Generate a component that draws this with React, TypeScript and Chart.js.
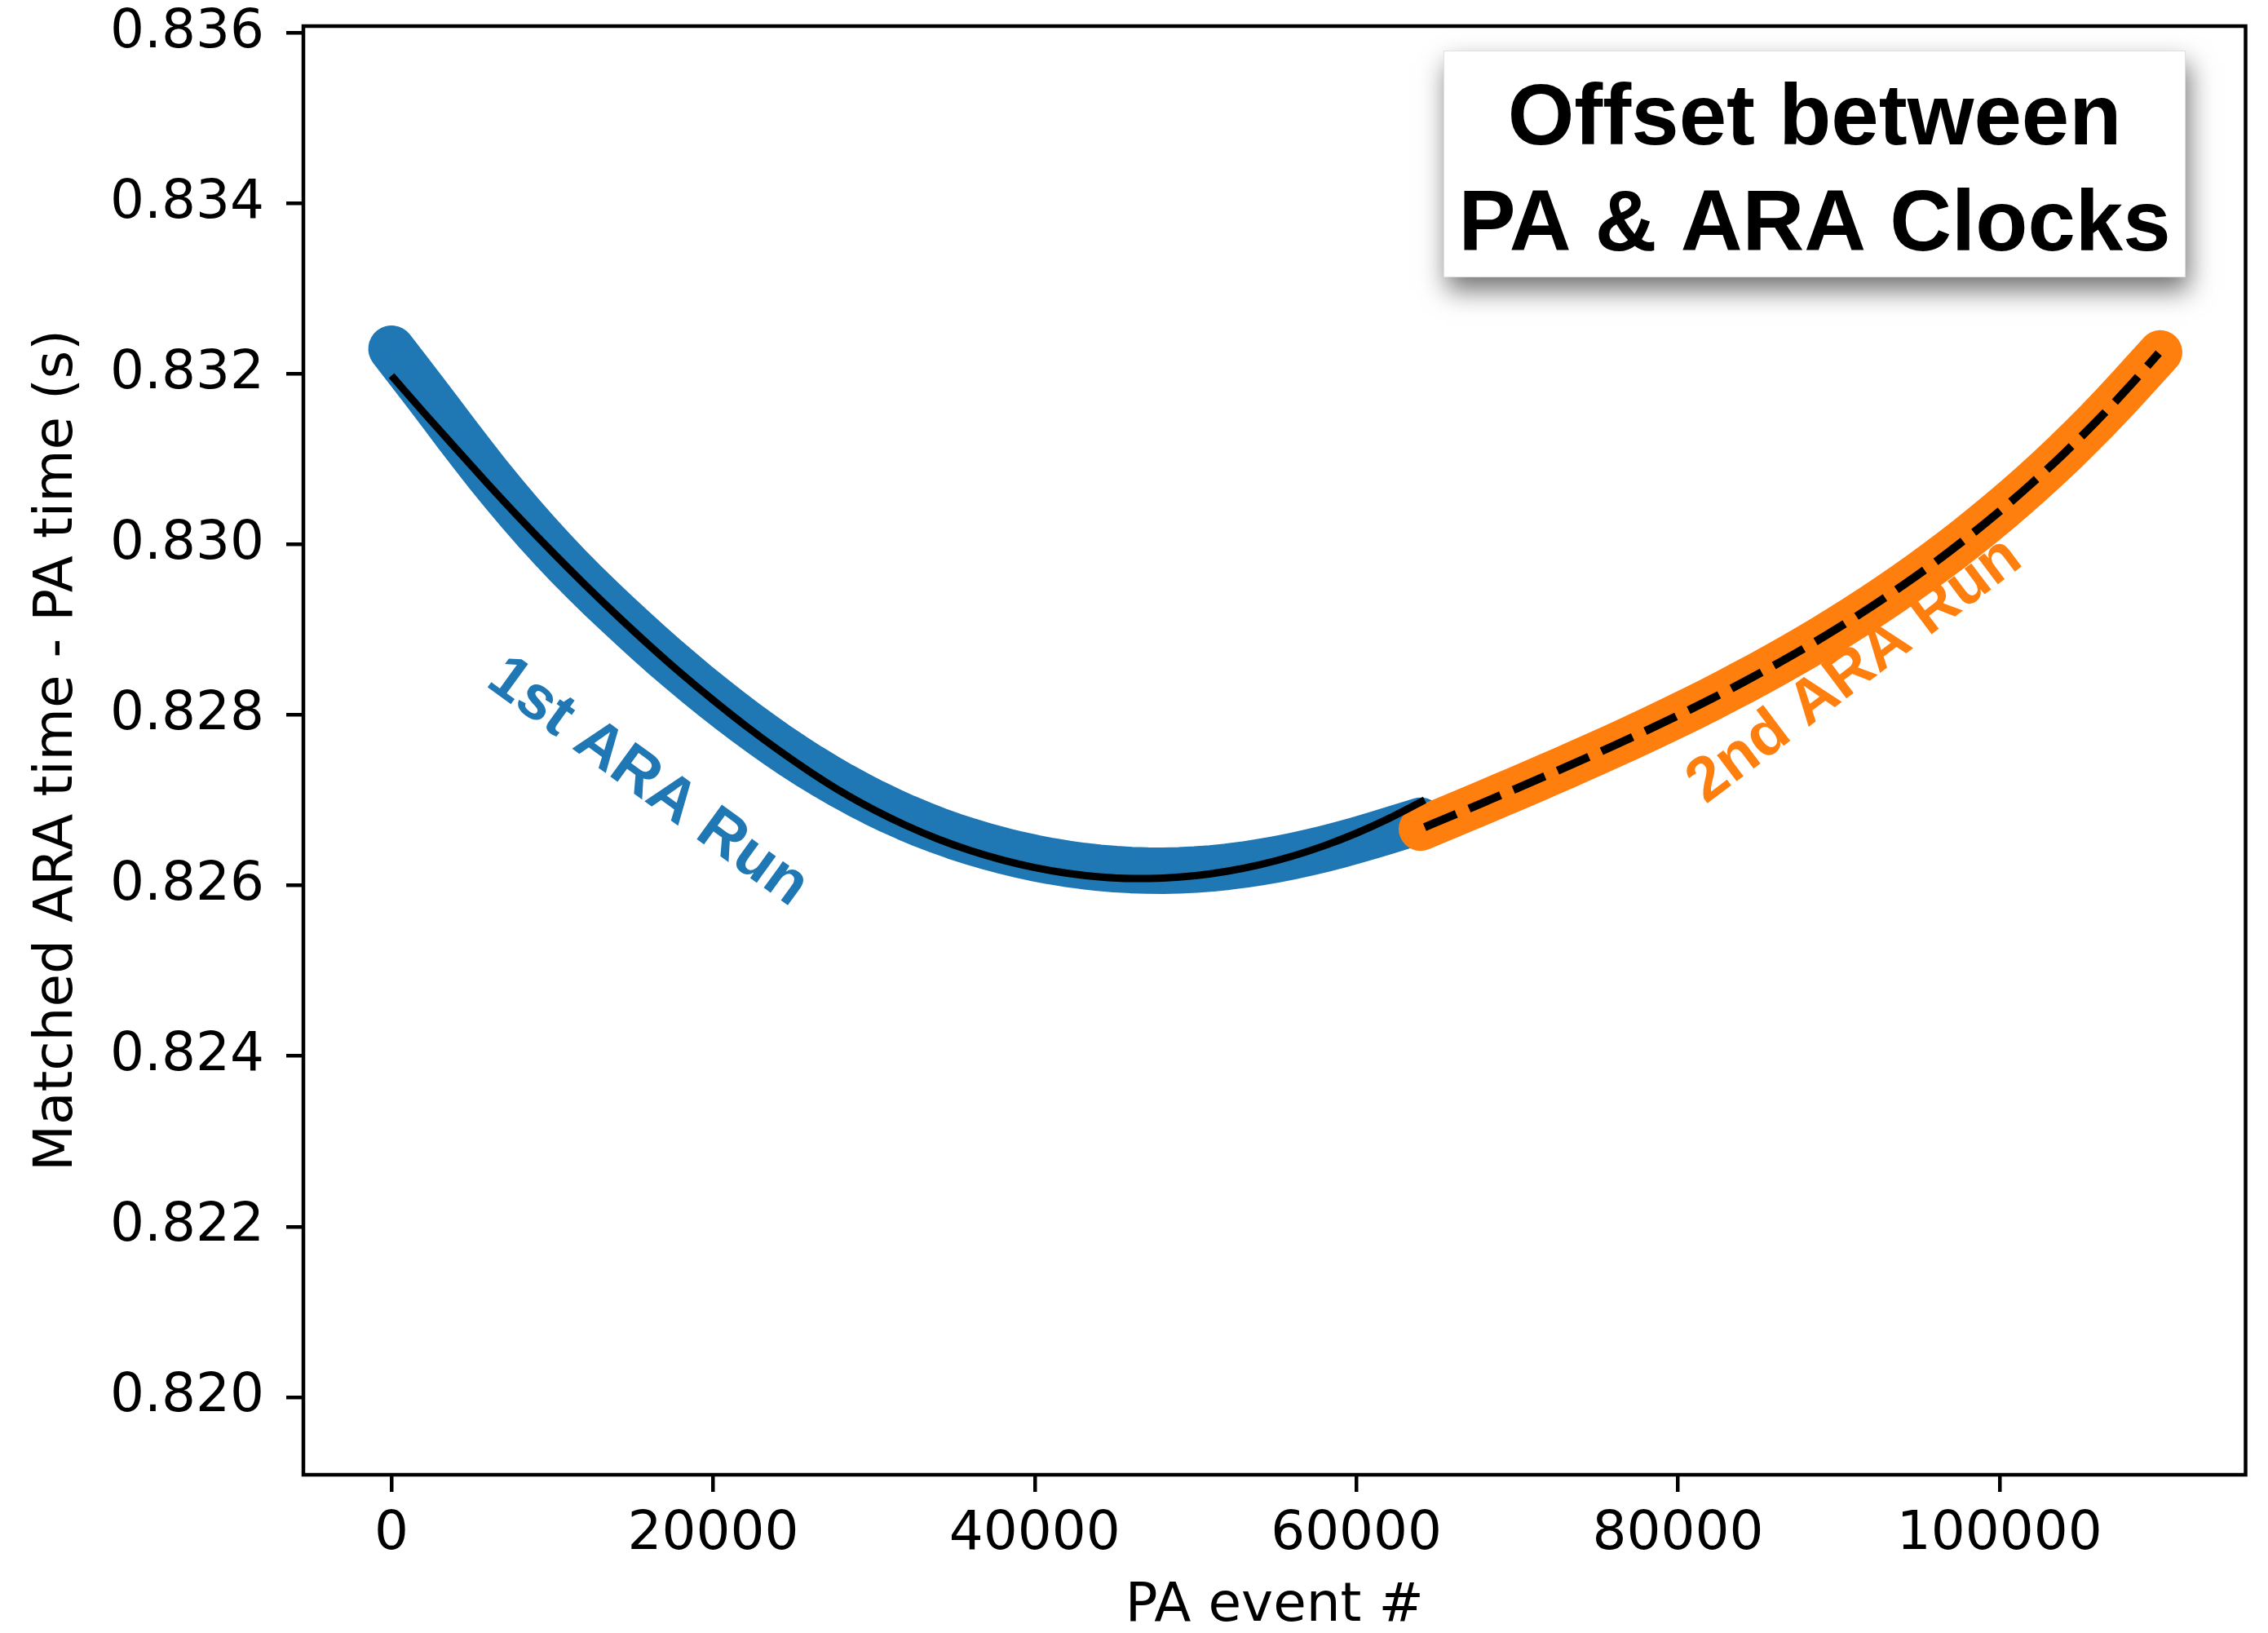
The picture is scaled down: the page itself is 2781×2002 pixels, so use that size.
import { useEffect, useRef } from "react";
import { Chart, registerables } from "chart.js";

Chart.register(...registerables);

// ---------- data ----------
const xTickValues = [0, 20000, 40000, 60000, 80000, 100000];
const yTickValues = [0.82, 0.822, 0.824, 0.826, 0.828, 0.83, 0.832, 0.834, 0.836];

// 1st ARA run: matched scatter (PA event #, ARA time - PA time)
const run1Event = [
  0, 1000, 2000, 3000, 4000, 5000, 6000, 7000, 8000, 9000,
  10000, 11000, 12000, 13000, 14000, 15000, 16000, 17000, 18000, 19000,
  20000, 21000, 22000, 23000, 24000, 25000, 26000, 27000, 28000, 29000,
  30000, 31000, 32000, 33000, 34000, 35000, 36000, 37000, 38000, 39000,
  40000, 41000, 42000, 43000, 44000, 45000, 46000, 47000, 48000, 49000,
  50000, 51000, 52000, 53000, 54000, 55000, 56000, 57000, 58000, 59000,
  60000, 61000, 62000, 63000, 64000,
];
const run1Delta = [
  0.832296, 0.832052, 0.831807, 0.831559, 0.831309, 0.831063, 0.830823, 0.830591, 0.830367, 0.830152,
  0.829945, 0.829746, 0.829555, 0.829372, 0.829193, 0.829018, 0.828847, 0.82868, 0.828518, 0.82836,
  0.828207, 0.828059, 0.827916, 0.827778, 0.827645, 0.827518, 0.827397, 0.827282, 0.827173, 0.82707,
  0.826973, 0.826882, 0.826797, 0.826718, 0.826645, 0.826578, 0.826517, 0.826461, 0.82641, 0.826364,
  0.826323, 0.826287, 0.826256, 0.82623, 0.826209, 0.826193, 0.826182, 0.826176, 0.826175, 0.826179,
  0.826188, 0.826202, 0.826221, 0.826245, 0.826274, 0.826307, 0.826344, 0.826385, 0.82643, 0.826479,
  0.826532, 0.826587, 0.826644, 0.826702, 0.826761,
];

// 2nd ARA run: matched scatter
const run2Event = [
  64000, 65000, 66000, 67000, 68000, 69000,
  70000, 71000, 72000, 73000, 74000, 75000, 76000, 77000, 78000, 79000,
  80000, 81000, 82000, 83000, 84000, 85000, 86000, 87000, 88000, 89000,
  90000, 91000, 92000, 93000, 94000, 95000, 96000, 97000, 98000, 99000,
  100000, 101000, 102000, 103000, 104000, 105000, 106000, 107000, 108000, 109000,
  110000,
];
const run2Delta = [
  0.826665, 0.826744, 0.826823, 0.826902, 0.826982, 0.827062,
  0.827142, 0.827223, 0.827305, 0.827387, 0.827471, 0.827555, 0.82764, 0.827727, 0.827814, 0.827904,
  0.827995, 0.828088, 0.828182, 0.82828, 0.828379, 0.82848, 0.828584, 0.82869, 0.828799, 0.828911,
  0.829027, 0.829145, 0.829268, 0.829393, 0.829523, 0.829656, 0.829793, 0.829935, 0.830082, 0.830233,
  0.830389, 0.83055, 0.830717, 0.830889, 0.831067, 0.831251, 0.83144, 0.831637, 0.83184, 0.832049,
  0.832255,
];

// Fit to 1st run (solid black line)
const fit1Event = [
  0, 2000, 4000, 6000, 8000, 10000, 12000, 14000, 16000, 18000,
  20000, 22000, 24000, 26000, 28000, 30000, 32000, 34000, 36000, 38000,
  40000, 42000, 44000, 46000, 48000, 50000, 52000, 54000, 56000, 58000,
  60000, 62000, 64250,
];
const fit1Delta = [
  0.83198, 0.831549, 0.831126, 0.830709, 0.830303, 0.829912, 0.829535, 0.829172, 0.828823, 0.82849,
  0.828175, 0.827877, 0.827598, 0.827337, 0.827098, 0.826889, 0.826705, 0.826545, 0.826411, 0.8263,
  0.826211, 0.826145, 0.826102, 0.826083, 0.826088, 0.826116, 0.826169, 0.826245, 0.826344, 0.826467,
  0.826614, 0.826785, 0.827004,
];

// Fit to 2nd run (dashed black line)
const fit2Event = [
  64250, 66000, 68000, 70000, 72000, 74000, 76000, 78000, 80000, 82000,
  84000, 86000, 88000, 90000, 92000, 94000, 96000, 98000, 100000, 102000,
  104000, 106000, 108000, 109900,
];
const fit2Delta = [
  0.826685, 0.826823, 0.826982, 0.827142, 0.827305, 0.827471, 0.82764, 0.827814, 0.827995, 0.828182,
  0.828379, 0.828584, 0.828799, 0.829027, 0.829268, 0.829523, 0.829793, 0.830082, 0.830389, 0.830717,
  0.831067, 0.83144, 0.83184, 0.832245,
];

// Run labels (anchored in data coordinates)
const runLabelText = ["1st ARA Run", "2nd ARA Run"];
const runLabelEvent = [15930, 91000];
const runLabelDelta = [0.82721, 0.82852];
const runLabelAngle = [36, -37];
const runLabelColor = ["#1f77b4", "#ff7f0e"];

const titleLines = ["Offset between", "PA & ARA Clocks"];

// ---------- layout / style ----------
const W = 2781;
const H = 2002;
const X_MIN = -5480;
const X_MAX = 115300;
const Y_MIN = 0.81909;
const Y_MAX = 0.83608;
const BLUE = "#1f77b4";
const ORANGE = "#ff7f0e";
const TICK_FONT = { family: "DejaVu Sans", size: 66, lineHeight: 1.2 };
const TITLE_BOX = { x: 1770, y: 62, w: 910, h: 278, baselines: [177, 307], font: 'bold 105px "Liberation Sans"' };

const toPoints = (xs: number[], ys: number[]) => xs.map((x, i) => ({ x, y: ys[i] }));

const framePlugin = {
  id: "frame",
  afterDatasetsDraw(chart: any) {
    const { ctx, chartArea: a } = chart;
    ctx.save();
    ctx.strokeStyle = "#000";
    ctx.lineWidth = 4.5;
    ctx.lineJoin = "miter";
    ctx.strokeRect(a.left, a.top, a.right - a.left, a.bottom - a.top);
    ctx.restore();
  },
};

const annotationPlugin = {
  id: "annotations",
  afterDraw(chart: any) {
    const { ctx } = chart;
    const xs = chart.scales.x;
    const ys = chart.scales.y;
    runLabelText.forEach((t, i) => {
      const px = xs.getPixelForValue(runLabelEvent[i]);
      const py = ys.getPixelForValue(runLabelDelta[i]);
      ctx.save();
      ctx.translate(px, py);
      ctx.rotate((runLabelAngle[i] * Math.PI) / 180);
      ctx.font = 'bold 76px "Liberation Sans"';
      ctx.fillStyle = runLabelColor[i];
      ctx.textAlign = "center";
      ctx.textBaseline = "middle";
      ctx.fillText(t, 0, 0);
      ctx.restore();
    });
    const b = TITLE_BOX;
    ctx.save();
    ctx.shadowColor = "rgba(0,0,0,0.55)";
    ctx.shadowBlur = 30;
    ctx.shadowOffsetX = 4;
    ctx.shadowOffsetY = 16;
    ctx.fillStyle = "#fff";
    ctx.fillRect(b.x, b.y, b.w, b.h);
    ctx.restore();
    ctx.save();
    ctx.strokeStyle = "rgba(0,0,0,0.12)";
    ctx.lineWidth = 1;
    ctx.strokeRect(b.x + 0.5, b.y + 0.5, b.w - 1, b.h - 1);
    ctx.fillStyle = "#000";
    ctx.font = b.font;
    ctx.textAlign = "center";
    ctx.textBaseline = "alphabetic";
    titleLines.forEach((line, i) => ctx.fillText(line, b.x + b.w / 2, b.baselines[i]));
    ctx.restore();
  },
};

// dense scatter of markers merges into a band: drawn as points joined by a
// marker-wide round-capped stroke so the band edges are smooth
const runStyle = (color: string, width: number) => ({
  showLine: true,
  borderColor: color,
  borderWidth: width,
  borderCapStyle: "round",
  borderJoinStyle: "round",
  tension: 0,
  pointRadius: width / 2 - 1,
  pointHoverRadius: width / 2 - 1,
  pointBorderWidth: 0,
  pointBackgroundColor: color,
  backgroundColor: color,
  fill: false,
});

export default function App() {
  const ref = useRef<HTMLCanvasElement | null>(null);

  useEffect(() => {
    const canvas = ref.current;
    if (!canvas) return;
    const chart = new Chart(canvas, {
      type: "scatter",
      data: {
        datasets: [
          {
            label: "Fit 2nd run",
            data: toPoints(fit2Event, fit2Delta),
            showLine: true,
            borderColor: "#000",
            borderWidth: 10,
            borderDash: [42, 17],
            borderCapStyle: "butt",
            pointRadius: 0,
            pointHitRadius: 0,
            cubicInterpolationMode: "monotone",
            fill: false,
            order: 0,
          } as any,
          {
            label: "Fit 1st run",
            data: toPoints(fit1Event, fit1Delta),
            showLine: true,
            borderColor: "#000",
            borderWidth: 9,
            borderCapStyle: "butt",
            pointRadius: 0,
            pointHitRadius: 0,
            cubicInterpolationMode: "monotone",
            fill: false,
            order: 1,
          } as any,
          {
            label: "2nd ARA Run",
            data: toPoints(run2Event, run2Delta),
            ...runStyle(ORANGE, 54),
            order: 2,
          } as any,
          {
            label: "1st ARA Run",
            data: toPoints(run1Event, run1Delta),
            ...runStyle(BLUE, 57),
            order: 3,
          } as any,
        ],
      },
      options: {
        responsive: false,
        maintainAspectRatio: false,
        devicePixelRatio: 1,
        animation: false,
        events: [],
        layout: { padding: { left: 0, top: 32, right: W - 2756, bottom: 0 } },
        plugins: {
          legend: { display: false },
          tooltip: { enabled: false },
        },
        scales: {
          x: {
            type: "linear",
            position: "bottom",
            min: X_MIN,
            max: X_MAX,
            bounds: "data",
            afterBuildTicks: (s: any) => {
              s.ticks = xTickValues.map((v) => ({ value: v }));
            },
            afterFit: (s: any) => {
              s.height = H - 1808;
              s.paddingLeft = 0;
              s.paddingRight = 0;
            },
            ticks: {
              callback: (v: any) => String(v),
              font: TICK_FONT,
              color: "#000",
              padding: 13,
              maxRotation: 0,
              minRotation: 0,
              autoSkip: false,
            },
            grid: {
              drawOnChartArea: false,
              drawTicks: true,
              tickLength: 21,
              tickWidth: 4.5,
              tickColor: "#000",
              color: "#000",
              lineWidth: 4.5,
            },
            border: { display: false },
            title: {
              display: true,
              text: "PA event #",
              font: TICK_FONT,
              color: "#000",
              padding: { top: 0, bottom: -7 },
            },
          } as any,
          y: {
            type: "linear",
            min: Y_MIN,
            max: Y_MAX,
            bounds: "data",
            afterBuildTicks: (s: any) => {
              s.ticks = yTickValues.map((v) => ({ value: v }));
            },
            afterFit: (s: any) => {
              s.width = 372;
              s.paddingTop = 0;
              s.paddingBottom = 0;
            },
            ticks: {
              callback: (v: any) => Number(v).toFixed(3),
              font: TICK_FONT,
              color: "#000",
              padding: 27,
              autoSkip: false,
            },
            grid: {
              drawOnChartArea: false,
              drawTicks: true,
              tickLength: 21,
              tickWidth: 4.5,
              tickColor: "#000",
              color: "#000",
              lineWidth: 4.5,
            },
            border: { display: false },
            title: {
              display: true,
              text: "Matched ARA time - PA time (s)",
              font: TICK_FONT,
              color: "#000",
              padding: { top: 31, bottom: 0 },
            },
          } as any,
        },
      },
      plugins: [framePlugin, annotationPlugin],
    } as any);
    return () => chart.destroy();
  }, []);

  return (
    <div style={{ position: "absolute", left: 0, top: 0, width: W, height: H, background: "#fff" }}>
      <canvas ref={ref} width={W} height={H} style={{ display: "block", width: W, height: H }} />
    </div>
  );
}
